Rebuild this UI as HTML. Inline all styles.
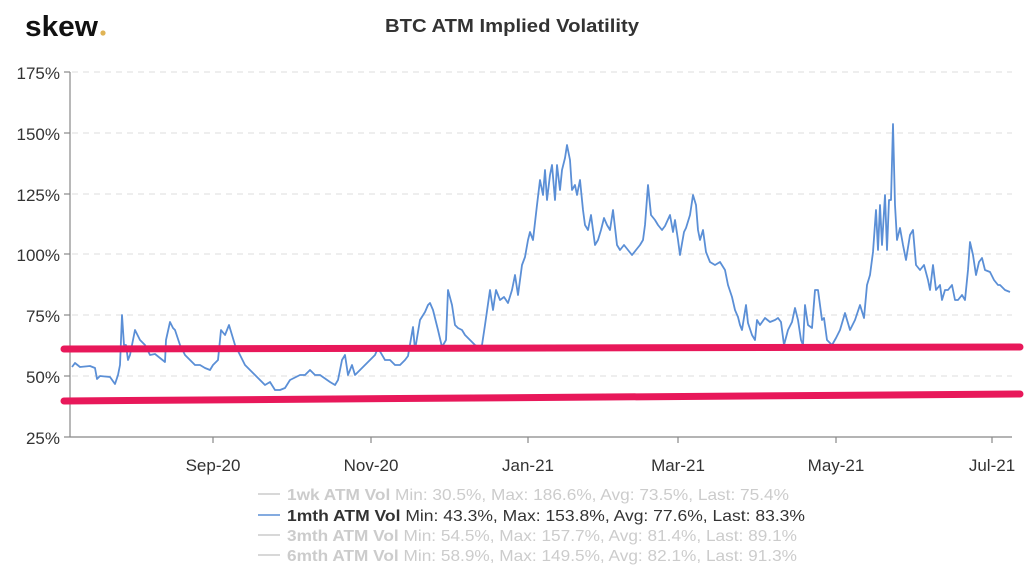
<!DOCTYPE html>
<html><head><meta charset="utf-8"><style>
body{margin:0;background:#fff;width:1024px;height:572px;overflow:hidden;font-family:"Liberation Sans",sans-serif}
</style></head><body>
<svg width="1024" height="572" xmlns="http://www.w3.org/2000/svg" font-family="Liberation Sans, sans-serif">
<text x="25" y="36" font-size="29" font-weight="bold" fill="#111" textLength="73" lengthAdjust="spacingAndGlyphs">skew</text>
<circle cx="103" cy="33" r="2.6" fill="#e0b455"/>
<text x="385" y="32" font-size="18" font-weight="bold" fill="#333" textLength="254" lengthAdjust="spacingAndGlyphs">BTC ATM Implied Volatility</text>
<g stroke="#ddd" stroke-dasharray="6,5" stroke-width="1">
<line x1="72" y1="72" x2="1012" y2="72"/><line x1="72" y1="133" x2="1012" y2="133"/><line x1="72" y1="194" x2="1012" y2="194"/><line x1="72" y1="254" x2="1012" y2="254"/><line x1="72" y1="315" x2="1012" y2="315"/><line x1="72" y1="376" x2="1012" y2="376"/>
</g>
<g stroke="#888" stroke-width="1.2">
<line x1="70" y1="72" x2="70" y2="437"/><line x1="70" y1="437" x2="1012" y2="437"/>
<line x1="64" y1="72" x2="70" y2="72"/><line x1="64" y1="133" x2="70" y2="133"/><line x1="64" y1="194" x2="70" y2="194"/><line x1="64" y1="254" x2="70" y2="254"/><line x1="64" y1="315" x2="70" y2="315"/><line x1="64" y1="376" x2="70" y2="376"/><line x1="64" y1="437" x2="70" y2="437"/>
<line x1="213" y1="437" x2="213" y2="443"/><line x1="371" y1="437" x2="371" y2="443"/><line x1="528" y1="437" x2="528" y2="443"/><line x1="678" y1="437" x2="678" y2="443"/><line x1="836" y1="437" x2="836" y2="443"/><line x1="992" y1="437" x2="992" y2="443"/>
</g>
<g font-size="17" fill="#333" text-anchor="end">
<text x="60" y="79">175%</text><text x="60" y="140">150%</text><text x="60" y="201">125%</text><text x="60" y="261">100%</text><text x="60" y="322">75%</text><text x="60" y="383">50%</text><text x="60" y="444">25%</text>
</g>
<g font-size="17" fill="#333" text-anchor="middle">
<text x="213" y="471">Sep-20</text><text x="371" y="471">Nov-20</text><text x="528" y="471">Jan-21</text><text x="678" y="471">Mar-21</text><text x="836" y="471">May-21</text><text x="992" y="471">Jul-21</text>
</g>
<polyline fill="none" stroke="#5b8fd6" stroke-width="1.8" stroke-linejoin="round" points="72,367 75,363 80,367 90,366 95,368 97,379 100,376 110,377 115,384 118,375 120,365 122,315 124,345 126,345 128,360 130,355 135,330 140,340 145,345 150,355 155,354 160,358 165,362 166,340 170,322 173,328 175,330 180,345 185,355 190,360 195,365 200,365 205,368 210,370 213,365 218,360 221,330 225,335 229,325 232,335 235,345 240,355 245,365 255,375 260,380 265,385 270,382 275,390 280,390 285,388 290,380 300,375 305,375 310,370 315,375 320,375 330,382 335,385 338,380 342,360 345,355 348,375 352,365 355,375 360,370 370,360 375,355 378,348 385,360 390,360 395,365 400,365 405,360 408,356 413,327 415,350 420,320 425,312 428,305 430,303 433,310 438,330 442,347 446,340 448,290 452,305 455,325 458,328 462,330 465,335 470,340 475,345 478,347 482,345 485,325 490,290 493,310 496,290 500,300 504,297 508,303 512,290 515,275 518,295 522,265 525,257 528,240 530,232 533,240 537,205 540,180 543,195 545,170 547,200 550,175 552,165 555,200 557,165 560,190 562,170 565,158 567,145 570,160 572,190 575,185 577,195 580,180 583,210 585,225 588,230 591,215 595,245 598,240 601,230 604,218 607,225 610,230 613,210 617,245 620,250 624,245 628,250 632,255 636,250 640,245 643,240 645,225 648,185 651,215 655,220 658,225 662,230 665,226 670,215 673,232 675,220 678,240 680,255 684,232 686,228 690,215 693,195 696,205 698,230 700,240 703,230 706,252 710,262 715,265 720,262 725,270 728,285 732,297 735,310 738,317 740,325 742,330 746,305 748,323 752,335 755,340 757,320 760,325 765,318 770,322 775,320 778,318 781,322 784,345 788,330 792,322 795,308 798,320 801,340 803,345 805,305 808,325 812,328 815,290 818,290 822,320 824,318 827,340 832,345 836,338 840,330 845,313 850,330 855,320 860,305 864,318 867,285 870,275 873,252 876,210 878,250 880,205 882,245 885,195 887,250 889,200 891,200 893,124 895,205 897,240 900,228 903,245 906,260 910,235 913,230 916,265 920,270 924,265 928,280 930,290 933,265 936,290 940,285 942,300 945,290 948,290 952,285 955,300 958,300 962,295 965,300 968,270 970,242 973,255 976,275 979,262 982,258 985,270 990,272 994,280 998,285 1000,285 1005,290 1010,292"/>
<g stroke="#e8185a" stroke-width="7" stroke-linecap="round">
<line x1="64" y1="349" x2="1020" y2="347"/>
<line x1="64" y1="401" x2="1020" y2="394"/>
</g>
<g font-size="16">
<line x1="258" y1="494" x2="280" y2="494" stroke="#ccc" stroke-width="1.5"/>
<text x="287" y="500" fill="#ccc" textLength="502" lengthAdjust="spacingAndGlyphs"><tspan font-weight="bold">1wk ATM Vol</tspan> Min: 30.5%, Max: 186.6%, Avg: 73.5%, Last: 75.4%</text>
<line x1="258" y1="515" x2="280" y2="515" stroke="#5b8fd6" stroke-width="1.5"/>
<text x="287" y="521" fill="#333" textLength="518" lengthAdjust="spacingAndGlyphs"><tspan font-weight="bold">1mth ATM Vol</tspan> Min: 43.3%, Max: 153.8%, Avg: 77.6%, Last: 83.3%</text>
<line x1="258" y1="535" x2="280" y2="535" stroke="#ccc" stroke-width="1.5"/>
<text x="287" y="541" fill="#ccc" textLength="510" lengthAdjust="spacingAndGlyphs"><tspan font-weight="bold">3mth ATM Vol</tspan> Min: 54.5%, Max: 157.7%, Avg: 81.4%, Last: 89.1%</text>
<line x1="258" y1="555" x2="280" y2="555" stroke="#ccc" stroke-width="1.5"/>
<text x="287" y="561" fill="#ccc" textLength="510" lengthAdjust="spacingAndGlyphs"><tspan font-weight="bold">6mth ATM Vol</tspan> Min: 58.9%, Max: 149.5%, Avg: 82.1%, Last: 91.3%</text>
</g>
</svg>
</body></html>
